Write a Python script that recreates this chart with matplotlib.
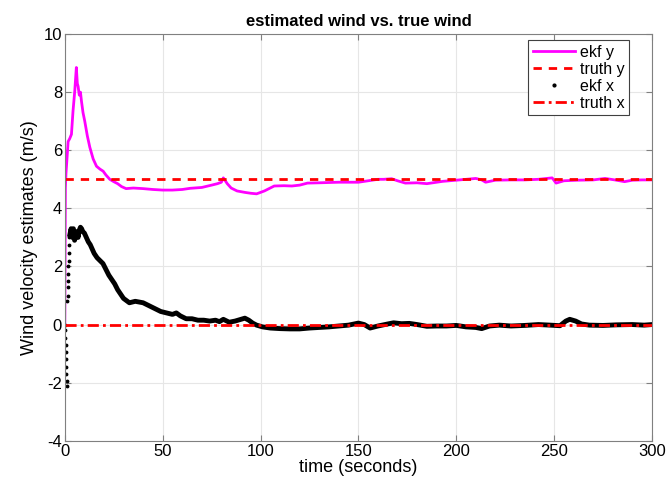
import numpy as np
import matplotlib
matplotlib.use("Agg")
import matplotlib.pyplot as plt
from matplotlib.lines import Line2D

# ==========================================================
# Data
# ==========================================================

t_y = [0, 0.3, 0.6, 1.0, 1.7, 2.5, 3.4, 4.2, 5.1, 5.9, 6.4, 6.8, 7.4, 8.0,
       8.5, 9.3, 10.2, 11.5, 12.8, 14.5, 16.2, 18, 19.6, 21, 23, 25, 27, 29,
       31.3, 35, 40, 45, 50, 55, 60, 64, 70, 75, 78, 80, 81, 83, 85, 88, 92,
       95, 98, 102, 107, 112, 116, 120, 124, 130, 140, 150, 155, 160, 163,
       167, 170, 174, 180, 185, 190, 193, 200, 205, 210, 213, 215, 220, 228,
       235, 242, 249, 251, 255, 262, 270, 276, 281, 286, 290, 295, 300]
ekf_y = [0.0, 4.7, 5.2, 5.6, 6.3, 6.4, 6.55, 7.35, 8.05, 8.85, 8.3, 8.2,
         7.9, 8.0, 7.7, 7.3, 7.0, 6.5, 6.1, 5.7, 5.45, 5.35, 5.28, 5.15, 5.0,
         4.92, 4.85, 4.75, 4.68, 4.7, 4.68, 4.65, 4.63, 4.63, 4.65, 4.69, 4.72,
         4.8, 4.85, 4.9, 5.05, 4.85, 4.7, 4.6, 4.55, 4.52, 4.5, 4.6, 4.77,
         4.78, 4.77, 4.8, 4.87, 4.88, 4.9, 4.9, 4.95, 5.0, 5.0, 5.02, 4.95,
         4.87, 4.88, 4.85, 4.9, 4.93, 4.97, 5.0, 5.03, 4.98, 4.9, 4.97, 4.98,
         4.98, 5.0, 5.05, 4.87, 4.95, 4.97, 4.98, 5.03, 4.98, 4.92, 4.97,
         4.98, 4.98]

# early scattered estimates of x (drawn as separate dots)
t_x0 = [0.1, 0.2, 0.3, 0.4, 0.5, 0.6, 0.7, 0.8, 0.9, 1.0, 1.3, 1.4, 1.5,
        1.6, 1.7, 1.8, 1.9, 2.0, 2.2, 2.4]
ekf_x0 = [0.0, -0.2, -0.45, -0.7, -0.95, -1.2, -1.45, -1.7, -1.95, -2.1,
          0.8, 1.0, 1.3, 1.5, 1.75, 2.0, 2.2, 2.45, 2.75, 3.0]

t_x = [2.6, 3.2, 3.8, 4.4, 5.0, 5.6, 6.2, 6.8, 7.4, 8.0, 8.6, 9.2, 10, 11,
       12, 13, 14, 15, 16.5, 18, 19.5, 21, 22.5, 24, 25.5, 27, 28.5, 30, 31,
       33, 36, 40, 43, 46, 49, 52, 55, 57, 59, 62, 65, 68, 71, 74, 77, 79,
       81, 84, 87, 90, 92, 94, 96, 98, 101, 105, 110, 115, 120, 125, 130,
       135, 140, 145, 150, 153, 156, 160, 165, 168, 172, 176, 180, 185, 190,
       195, 200, 205, 210, 213, 217, 222, 228, 235, 242, 248, 253, 256, 258,
       261, 264, 268, 275, 282, 290, 296, 300]
ekf_x = [3.1, 3.3, 3.0, 3.3, 2.9, 3.1, 3.2, 3.0, 3.25, 3.35, 3.3, 3.2, 3.15,
         3.0, 2.85, 2.75, 2.6, 2.45, 2.3, 2.2, 2.1, 1.9, 1.7, 1.55, 1.4,
         1.2, 1.05, 0.9, 0.85, 0.75, 0.8, 0.75, 0.65, 0.55, 0.45, 0.4, 0.35,
         0.4, 0.3, 0.2, 0.2, 0.15, 0.15, 0.12, 0.15, 0.1, 0.18, 0.08, 0.12,
         0.18, 0.22, 0.15, 0.05, -0.02, -0.08, -0.12, -0.14, -0.15, -0.15,
         -0.12, -0.1, -0.08, -0.05, -0.02, 0.05, 0.0, -0.12, -0.05, 0.02,
         0.06, 0.03, 0.04, 0.0, -0.06, -0.05, -0.05, -0.03, -0.08, -0.1,
         -0.14, -0.05, -0.02, -0.05, -0.03, 0.0, -0.02, -0.04, 0.12, 0.18,
         0.12, 0.02, -0.02, -0.03, -0.01, 0.0, -0.02, 0.0]

t_range = [0, 300]
truth_y = [5, 5]
truth_x = [0, 0]

# ==========================================================
# Plot
# ==========================================================

plt.rcParams["font.family"] = ["Liberation Sans", "DejaVu Sans"]
plt.rcParams["axes.unicode_minus"] = False

fig = plt.figure(figsize=(6.68, 4.87), dpi=100)
ax = fig.add_axes([0.097, 0.095, 0.879, 0.835])

ax.plot(t_y, ekf_y, color="magenta", linewidth=2)
ax.plot(t_range, truth_y, color="red", linestyle=(0, (3, 2.5)), linewidth=2)
ax.plot(t_x, ekf_x, color="black", linewidth=3.5, solid_joinstyle="round")
ax.plot(t_x0, ekf_x0, "k.", markersize=3.5)
ax.plot(t_range, truth_x, color="red", linestyle=(0, (4, 1.5, 1, 1.5)),
        linewidth=2)

ax.set_xlim(0, 300)
ax.set_ylim(-4, 10)
ax.set_xticks(np.arange(0, 301, 50))
ax.set_yticks(np.arange(-4, 11, 2))
ax.grid(True, color="#e6e6e6", linewidth=0.8)
ax.set_axisbelow(True)

for s in ax.spines.values():
    s.set_color("#808080")
    s.set_linewidth(0.8)
ax.tick_params(direction="in", top=True, right=True, length=4,
               color="#808080", labelsize=12, pad=2)

ax.set_title("estimated wind vs. true wind", fontsize=12, fontweight="bold",
             pad=6)
ax.set_xlabel("time (seconds)", fontsize=13, labelpad=0)
ax.set_ylabel("Wind velocity estimates (m/s)", fontsize=13, labelpad=4)

handles = [
    Line2D([], [], color="magenta", linewidth=2),
    Line2D([], [], color="red", linestyle=(0, (3, 2.5)), linewidth=2),
    Line2D([], [], color="black", marker=".", linestyle="none", markersize=4),
    Line2D([], [], color="red", linestyle=(0, (4, 1.5, 1, 1.5)), linewidth=2),
]
labels = ["ekf y", "truth y", "ekf x", "truth x"]
leg = ax.legend(handles, labels, loc="upper right", fontsize=11.5,
                bbox_to_anchor=(629 / 668, 1 - 40 / 487),
                bbox_transform=fig.transFigure,
                fancybox=False, framealpha=1, edgecolor="#404040",
                handlelength=2.6, handletextpad=0.3, labelspacing=0.12,
                borderpad=0.3, borderaxespad=0)
leg.get_frame().set_linewidth(0.8)

fig.savefig("out.png", dpi=100)
